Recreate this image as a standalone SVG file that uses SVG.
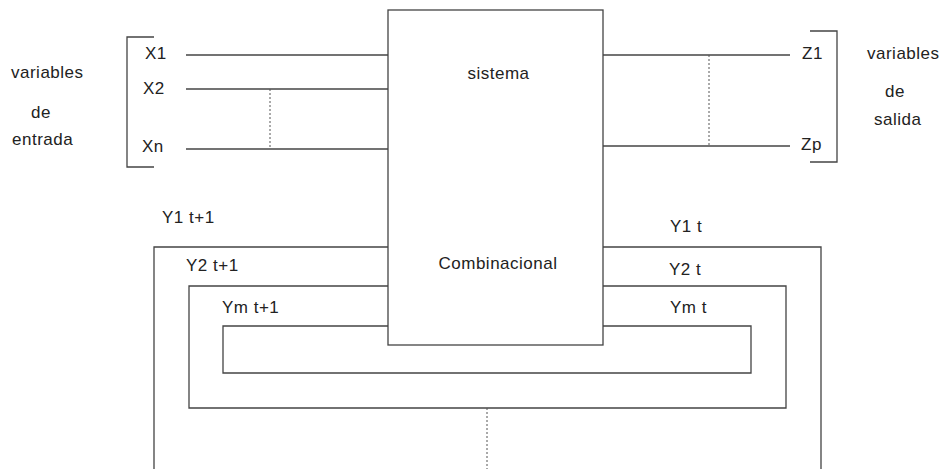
<svg xmlns="http://www.w3.org/2000/svg" width="943" height="469" viewBox="0 0 943 469">
  <style>
    .ln { stroke: #444; stroke-width: 1.3; fill: none; }
    .dot { stroke: #555; stroke-width: 1; stroke-dasharray: 2 2; fill: none; }
    text { font-family: "Liberation Sans", Arial, sans-serif; font-size: 17px; letter-spacing: 0.5px; fill: #222; }
  </style>
  <rect width="943" height="469" fill="#fff"/>

  <g id="connectors">
    <!-- inputs -->
    <line class="ln" x1="186" y1="55" x2="388" y2="55"/>
    <line class="ln" x1="186" y1="89" x2="388" y2="89"/>
    <line class="ln" x1="186" y1="149" x2="388" y2="149"/>
    <line class="dot" x1="270" y1="89" x2="270" y2="149"/>
    <!-- outputs -->
    <line class="ln" x1="603" y1="55" x2="790" y2="55"/>
    <line class="ln" x1="603" y1="146" x2="790" y2="146"/>
    <line class="dot" x1="709" y1="55" x2="709" y2="146"/>
    <!-- feedback loops -->
    <polyline class="ln" points="388,247 154,247 154,469"/>
    <polyline class="ln" points="603,247 821,247 821,469"/>
    <polyline class="ln" points="388,286 189,286 189,408 786,408 786,286 603,286"/>
    <polyline class="ln" points="388,326 223,326 223,373 751,373 751,326 603,326"/>
    <line class="dot" x1="487" y1="408" x2="487" y2="469"/>
  </g>

  <g id="inputs-bracket">
    <polyline class="ln" points="154,37 127,37 127,167 154,167"/>
    <text x="11" y="78">variables</text>
    <text x="31" y="118">de</text>
    <text x="12" y="145">entrada</text>
    <text x="145" y="59">X1</text>
    <text x="143" y="94">X2</text>
    <text x="142" y="152">Xn</text>
  </g>

  <g id="outputs-bracket">
    <polyline class="ln" points="810,31 837,31 837,162 810,162"/>
    <text x="802" y="59">Z1</text>
    <text x="801" y="150">Zp</text>
    <text x="867" y="59">variables</text>
    <text x="885" y="97">de</text>
    <text x="874" y="125">salida</text>
  </g>

  <g id="sistema">
    <rect class="ln" x="388" y="10" width="215" height="335" fill="#fff"/>
    <text x="498.5" y="79" text-anchor="middle">sistema</text>
    <text x="498" y="269" text-anchor="middle">Combinacional</text>
  </g>

  <g id="state-labels">
    <text x="162" y="223">Y1 t+1</text>
    <text x="186" y="271">Y2 t+1</text>
    <text x="222" y="313">Ym t+1</text>
    <text x="670" y="232">Y1 t</text>
    <text x="669" y="275">Y2 t</text>
    <text x="670" y="313">Ym t</text>
  </g>
</svg>
